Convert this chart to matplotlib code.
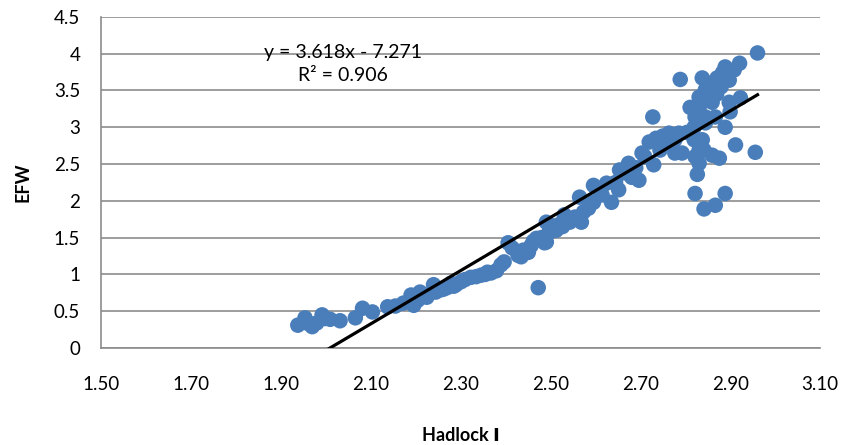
import matplotlib.pyplot as plt
import numpy as np

# Hadlock I vs EFW
hadlock = [
    1.938, 1.954, 1.970, 1.992, 2.010, 2.032, 1.962, 1.980, 1.998, 2.066,
    2.082, 2.104, 2.138, 2.155, 2.173, 2.196, 2.205, 2.227, 2.240, 2.256,
    2.279, 2.301, 2.323, 2.346, 2.368, 2.390, 2.397, 2.406, 2.428, 2.451,
    2.473, 2.487, 2.496, 2.210, 2.190, 2.440, 2.457, 2.270, 2.290, 2.335,
    2.469, 2.491, 2.491, 2.513, 2.531, 2.543, 2.569, 2.565, 2.574, 2.596,
    2.596, 2.625, 2.636, 2.652, 2.654, 2.674, 2.681, 2.697, 2.704, 2.730,
    2.744, 2.728, 2.720, 2.735, 2.750, 2.505, 2.520, 2.555, 2.610, 2.665,
    2.961, 2.921, 2.909, 2.889, 2.883, 2.898, 2.871, 2.789, 2.838, 2.853,
    2.845, 2.831, 2.853, 2.811, 2.831, 2.860, 2.898, 2.923, 2.822, 2.845,
    2.867, 2.900, 2.820, 2.845, 2.889, 2.764, 2.786, 2.804, 2.760, 2.777,
    2.820, 2.838, 2.831, 2.793, 2.777, 2.842, 2.912, 2.956, 2.822, 2.860,
    2.876, 2.831, 2.827, 2.822, 2.889, 2.842, 2.867, 2.815, 2.870, 2.880,
    2.245, 2.262, 2.310, 2.355, 2.380, 2.415, 2.435, 2.462, 2.480, 2.500,
    2.527, 2.548, 2.585, 2.615, 2.645, 2.690, 2.710, 2.225, 2.285, 2.360,
]
efw = [
    0.31, 0.41, 0.29, 0.45, 0.39, 0.37, 0.33, 0.34, 0.40, 0.41,
    0.54, 0.49, 0.56, 0.57, 0.61, 0.58, 0.65, 0.72, 0.86, 0.79,
    0.88, 0.90, 0.96, 0.99, 1.02, 1.13, 1.17, 1.43, 1.26, 1.30,
    0.82, 1.43, 1.56, 0.76, 0.72, 1.33, 1.39, 0.82, 0.86, 0.97,
    1.49, 1.44, 1.71, 1.60, 1.81, 1.71, 1.71, 2.05, 1.85, 2.21,
    1.98, 2.24, 1.98, 2.15, 2.42, 2.51, 2.32, 2.28, 2.65, 2.49,
    2.69, 3.14, 2.80, 2.85, 2.88, 1.66, 1.68, 1.78, 2.12, 2.38,
    4.01, 3.87, 3.78, 3.82, 3.74, 3.64, 3.67, 3.65, 3.67, 3.60,
    3.51, 3.41, 3.41, 3.27, 3.27, 3.34, 3.34, 3.40, 3.14, 3.14,
    3.14, 3.21, 3.00, 3.06, 3.00, 2.92, 2.92, 2.93, 2.79, 2.83,
    2.83, 2.83, 2.69, 2.65, 2.65, 2.69, 2.76, 2.66, 2.60, 2.62,
    2.58, 2.51, 2.36, 2.10, 2.10, 1.89, 1.94, 2.95, 3.45, 3.55,
    0.76, 0.80, 0.93, 1.00, 1.05, 1.36, 1.24, 1.45, 1.50, 1.62,
    1.65, 1.75, 1.90, 2.08, 2.25, 2.45, 2.60, 0.69, 0.84, 1.03,
]

slope, intercept = 3.618, -7.271
x_ticks = [1.50, 1.70, 1.90, 2.10, 2.30, 2.50, 2.70, 2.90, 3.10]
y_ticks = [0, 0.5, 1, 1.5, 2, 2.5, 3, 3.5, 4, 4.5]

plt.rcParams['font.family'] = ['Lato', 'DejaVu Sans']

fig = plt.figure(figsize=(8.43, 4.45), dpi=100)
ax = fig.add_axes([0.1198, 0.218, 0.8529, 0.744])

ax.scatter(hadlock, efw, s=125, color='#4a7ebb', edgecolors='none', zorder=3)

xs = np.array([min(hadlock), max(hadlock)])
ax.plot(xs, slope * xs + intercept, color='black', lw=2.3, zorder=4)

ax.set_xlim(1.5, 3.1)
ax.set_ylim(0, 4.5)
ax.set_xticks(x_ticks)
ax.set_xticklabels([f'{v:.2f}' for v in x_ticks])
ax.set_yticks(y_ticks)
ax.set_yticklabels([f'{v:g}' for v in y_ticks])
ax.tick_params(length=0, labelsize=13.5)
ax.tick_params(axis='y', pad=15)
ax.tick_params(axis='x', pad=20)

ax.grid(axis='y', color='#8c8c8c', lw=1.2)
ax.set_axisbelow(True)
for side in ['top', 'right']:
    ax.spines[side].set_visible(False)
for side in ['left', 'bottom']:
    ax.spines[side].set_color('#8c8c8c')
    ax.spines[side].set_linewidth(1.2)

ax.text(2.039, 4.02, 'y = 3.618x - 7.271', ha='center', va='center', fontsize=14)
ax.text(2.039, 3.70, 'R² = 0.906', ha='center', va='center', fontsize=14)

ax.set_xlabel('Hadlock Ⅰ', fontsize=13, fontweight='bold', labelpad=25)
ax.set_ylabel('EFW', fontsize=13, fontweight='bold', labelpad=16)

fig.savefig('out.png', dpi=100)
